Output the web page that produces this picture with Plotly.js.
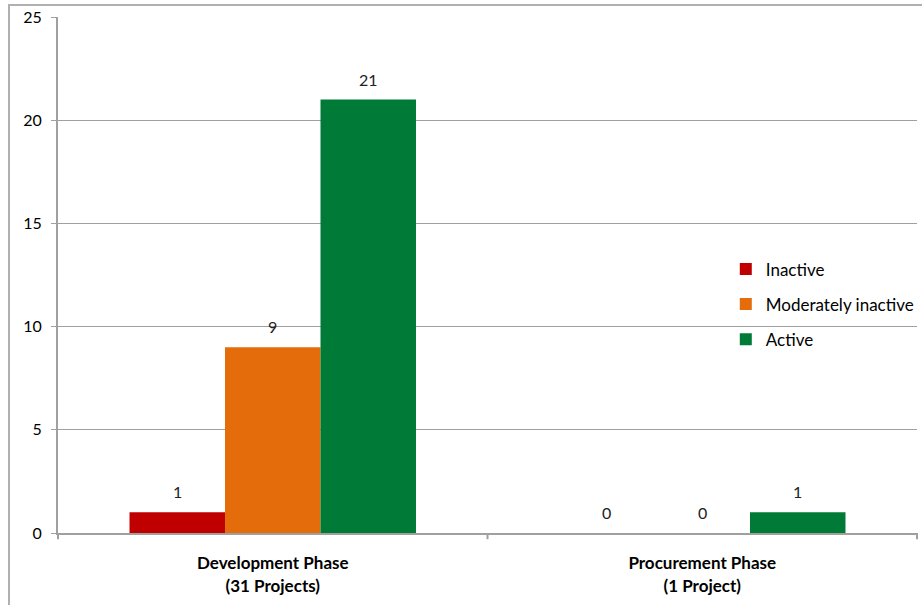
<!DOCTYPE html>
<html>
<head>
<meta charset="utf-8">
<script src="https://cdn.plot.ly/plotly-3.0.1.min.js"></script>
<style>
html,body{margin:0;padding:0;background:#fff;}
#frame{position:absolute;left:8px;top:4px;width:930px;height:620px;border-left:2px solid #b0b0b0;border-top:2px solid #b0b0b0;pointer-events:none;z-index:2;}
#chart{position:absolute;left:0;top:0;width:922px;height:605px;}
</style>
</head>
<body>
<div id="chart"></div>
<div id="frame"></div>
<script>
var categories = ["<b>Development Phase</b><br><b>(31 Projects)</b>", "<b>Procurement Phase</b><br><b>(1 Project)</b>"];
var seriesNames = ["Inactive", "Moderately inactive", "Active"];
var inactive = [1, 0];
var moderatelyInactive = [9, 0];
var active = [21, 1];
var yTicks = [0, 5, 10, 15, 20, 25];

var colors = ["#C00000", "#E46C0A", "#007A37"];
var values = [inactive, moderatelyInactive, active];
var FONT = "Lato, 'Liberation Sans', sans-serif";

var plotW = 922 - 58 - 4;
var bargap = 0.333;
var barPx = plotW / categories.length * (1 - bargap) / values.length;

var traces = values.map(function(v, i) {
  return {
    type: "bar",
    name: seriesNames[i],
    x: categories,
    y: v,
    marker: {color: colors[i]},
    legendgroup: "g" + i,
    hoverinfo: "name+y"
  };
});

var annotations = [];
values.forEach(function(v, i) {
  v.forEach(function(val, j) {
    annotations.push({
      xref: "x", yref: "y", x: categories[j], y: val,
      text: String(val), showarrow: false,
      xanchor: "center", yanchor: "bottom",
      xshift: (i - (values.length - 1) / 2) * barPx,
      yshift: 9,
      font: {family: FONT, size: 16, color: "#222"}
    });
  });
});

var layout = {
  width: 922, height: 605,
  margin: {l: 58, r: 4, t: 17, b: 72},
  paper_bgcolor: "#fff", plot_bgcolor: "#fff",
  barmode: "group",
  bargap: bargap, bargroupgap: 0,
  font: {family: FONT, size: 15, color: "#000"},
  showlegend: true,
  legend: {
    x: 0.7765, y: 0.443, xanchor: "left", yanchor: "middle",
    font: {size: 17, color: "#000"},
    tracegroupgap: 10, traceorder: "grouped",
    bgcolor: "rgba(0,0,0,0)"
  },
  xaxis: {
    type: "category",
    showgrid: false, zeroline: false,
    showline: true, linecolor: "#a0a0a0", linewidth: 2,
    ticks: "", tickfont: {size: 17, color: "#000"},
    ticklabelstandoff: 14,
    fixedrange: true
  },
  yaxis: {
    range: [0, 25], tickvals: yTicks, ticktext: yTicks.map(String),
    showgrid: true, gridcolor: "#a0a0a0", gridwidth: 1,
    zeroline: false,
    showline: true, linecolor: "#a0a0a0", linewidth: 2,
    ticks: "outside", ticklen: 5, tickcolor: "#a0a0a0", tickwidth: 1,
    tickfont: {size: 16, color: "#000"},
    ticklabelstandoff: 6,
    fixedrange: true
  },
  annotations: annotations,
  shapes: [
    {type: "line", xref: "paper", yref: "paper", x0: 0.5, x1: 0.5, y0: 0, y1: -0.012, line: {color: "#a0a0a0", width: 2}},
    {type: "line", xref: "paper", yref: "paper", x0: 0, x1: 0, y0: 0, y1: -0.012, line: {color: "#a0a0a0", width: 2}},
    {type: "line", xref: "paper", yref: "paper", x0: 1, x1: 1, y0: 0, y1: -0.012, line: {color: "#a0a0a0", width: 2}}
  ]
};

Plotly.newPlot("chart", traces, layout, {displayModeBar: false, staticPlot: true});
</script>
</body>
</html>
